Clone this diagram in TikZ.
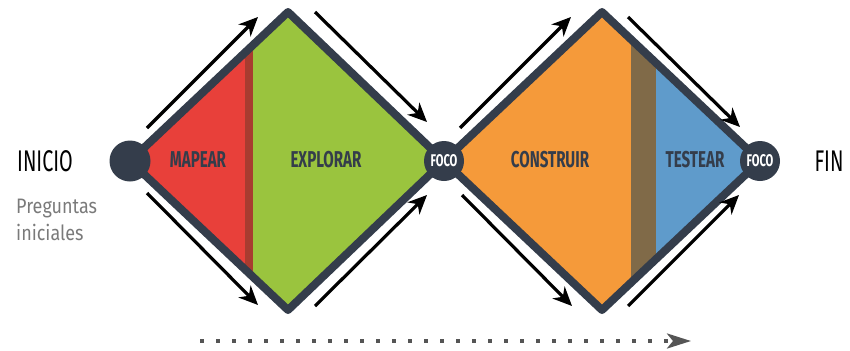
\documentclass[tikz,border=0pt]{standalone}
\usepackage{fontspec}
\usetikzlibrary{arrows.meta}
\newfontfamily\condfont[FakeStretch=0.66]{Fira Sans}
\newfontfamily\softfont[FakeStretch=0.86]{Fira Sans}
\definecolor{dk}{HTML}{343D4B}
\definecolor{redA}{HTML}{E8403A}
\definecolor{redB}{HTML}{A83C30}
\definecolor{greenA}{HTML}{9AC43E}
\definecolor{orangeA}{HTML}{F59A3A}
\definecolor{brownA}{HTML}{806A48}
\definecolor{blueA}{HTML}{5F9BCB}
\definecolor{dotgray}{HTML}{555555}
\definecolor{txtgray}{HTML}{7A7A7A}
\begin{document}
\begin{tikzpicture}[x=1bp,y=-1bp,
  outline/.style={draw=dk, line width=8bp, line join=round},
  flow/.style={line width=3.2bp, -{Stealth[length=19bp,width=17bp,inset=6bp]}},
  phase/.style={text=dk, font=\condfont\bfseries\fontsize{23}{23}\selectfont, inner sep=0pt},
  startdot/.style={circle, fill=dk, minimum size=41bp, inner sep=0pt},
  foco/.style={circle, fill=dk, minimum size=40bp, inner sep=0pt, text=white,
    font=\condfont\bfseries\fontsize{17}{17}\selectfont},
  endlabel/.style={text=black, font=\condfont\fontsize{30}{30}\selectfont, inner sep=0pt},
  dots/.style={draw=dotgray, line width=3.5bp, dash pattern=on 3.5bp off 12.5bp,
    -{Stealth[length=24bp,width=15bp,inset=6bp,fill=dotgray]}}
  ]
\useasboundingbox (0,0) rectangle (850,350);
% diamond corners
\coordinate (L1) at (130,161);
\coordinate (T1) at (288,12);
\coordinate (R1) at (444,161);
\coordinate (B1) at (288,310);
\coordinate (T2) at (602,12);
\coordinate (R2) at (760,161);
\coordinate (B2) at (602,310);
% fills
\begin{scope}
  \clip (L1) -- (T1) -- (R1) -- (B1) -- cycle;
  \fill[redA] (100,0) rectangle (245,350);
  \fill[redB] (245,0) rectangle (253,350);
  \fill[greenA] (253,0) rectangle (470,350);
\end{scope}
\begin{scope}
  \clip (R1) -- (T2) -- (R2) -- (B2) -- cycle;
  \fill[orangeA] (420,0) rectangle (631,350);
  \fill[brownA] (631,0) rectangle (656,350);
  \fill[blueA] (656,0) rectangle (790,350);
\end{scope}
\draw[outline] (L1) -- (T1) -- (R1) -- (B1) -- cycle;
\draw[outline] (R1) -- (T2) -- (R2) -- (B2) -- cycle;
% circles
\node[startdot] (inicio) at (L1) {};
\node[foco] (foco1) at (R1) {FOCO};
\node[foco] (foco2) at (R2) {FOCO};
% phase labels
\node[phase] (mapear) at (198,160) {MAPEAR};
\node[phase] (explorar) at (326,160) {EXPLORAR};
\node[phase] (construir) at (550,160) {CONSTRUIR};
\node[phase] (testear) at (695,160) {TESTEAR};
% end labels
\node[endlabel] (inicioT) at (45,161) {INICIO};
\node[endlabel] (finT) at (829,161) {FIN};
\node[anchor=north west, align=left, text=txtgray, inner sep=0pt,
  font=\softfont\fontsize{21}{27}\selectfont] (preg) at (16,199) {Preguntas\\iniciales};
% flow arrows
\coordinate (a1s) at (147,128); \coordinate (a1e) at (258,17);
\coordinate (a2s) at (147,193); \coordinate (a2e) at (258,305);
\coordinate (a3s) at (315,12);  \coordinate (a3e) at (427,122);
\coordinate (a4s) at (315,306); \coordinate (a4e) at (427,195);
\coordinate (a5s) at (460,128); \coordinate (a5e) at (571,17);
\coordinate (a6s) at (462,195); \coordinate (a6e) at (572,306);
\coordinate (a7s) at (628,17);  \coordinate (a7e) at (740,127);
\coordinate (a8s) at (628,306); \coordinate (a8e) at (739,195);
\draw[flow] (a1s) -- (a1e);
\draw[flow] (a2s) -- (a2e);
\draw[flow] (a3s) -- (a3e);
\draw[flow] (a4s) -- (a4e);
\draw[flow] (a5s) -- (a5e);
\draw[flow] (a6s) -- (a6e);
\draw[flow] (a7s) -- (a7e);
\draw[flow] (a8s) -- (a8e);
% dotted time arrow
\coordinate (ds) at (200,341);
\coordinate (de) at (691,341);
\draw[dots] (ds) -- (de);
\end{tikzpicture}
\end{document}
